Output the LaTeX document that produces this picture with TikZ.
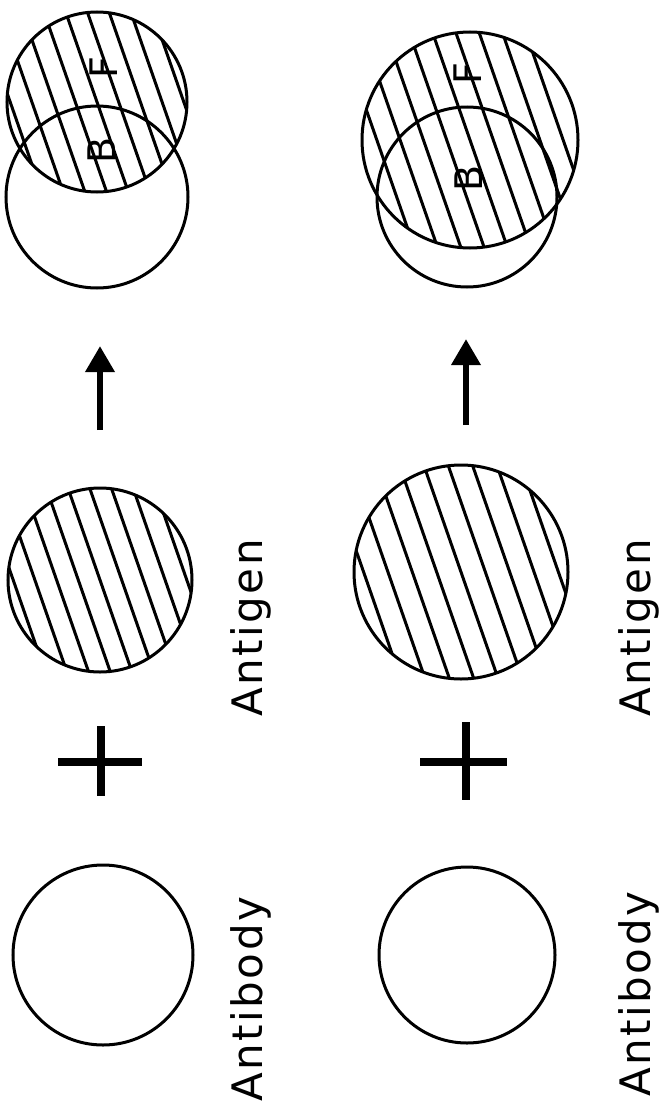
\documentclass[tikz,border=0pt]{standalone}
\usepackage{fontspec}
\setmainfont{DejaVu Sans}
\newfontfamily\labfont[LetterSpace=6]{DejaVu Sans}
\usetikzlibrary{arrows.meta}
\tikzset{
  outline/.style={circle, draw, line width=3pt, inner sep=0pt, outer sep=0pt},
  hatchline/.style={line width=3pt},
  arrowline/.style={line width=6.5pt, -{Triangle[length=26pt,width=28pt]}},
  plusbar/.style={line width=8pt},
  lab/.style={font=\labfont\fontsize{42}{48}\selectfont, inner sep=0pt, rotate=90, anchor=base west},
  letter/.style={font=\fontsize{38}{42}\selectfont, inner sep=0pt, rotate=90}
}
\newcommand\hatchdisk[4]{%
  \begin{scope}
    \clip (#1,#2) circle[radius=#3];
    \foreach \k in {-7,...,7}{
      \draw[hatchline, shift={(#1,#2)}] ({\k*#4*0.944-0.329*160},{-\k*#4*0.329-0.944*160}) -- ++(0.329*320,0.944*320);
    }
  \end{scope}}
\begin{document}
\begin{tikzpicture}[x=1pt,y=-1pt]
\useasboundingbox (0,0) rectangle (662,1108);
% ---------- left column ----------
% complex
\hatchdisk{97}{102}{90}{20.5}
\node[outline, minimum size=180pt] (cF1) at (97,102) {};
\node[outline, minimum size=182pt] (cB1) at (97,197) {};
\node[letter] (F1) at (104,68) {F};
\node[letter] (B1) at (102,150) {B};
% arrow
\coordinate (a1s) at (100,430);
\coordinate (a1e) at (100,346);
\draw[arrowline] (a1s) -- (a1e);
% antigen
\hatchdisk{100}{580}{92}{20.5}
\node[outline, minimum size=184pt] (ag1) at (100,580) {};
% plus
\coordinate (p1t) at (101,726);
\coordinate (p1b) at (101,796);
\coordinate (p1l) at (58,762);
\coordinate (p1r) at (142,762);
\draw[plusbar] (p1t) -- (p1b);
\draw[plusbar] (p1l) -- (p1r);
% antibody
\node[outline, minimum size=180pt] (ab1) at (103,955) {};
% labels
\node[lab] (tag1) at (262,717) {Antigen};
\node[lab] (tab1) at (262,1102) {Antibody};
% ---------- right column ----------
\hatchdisk{470}{140}{108}{22}
\node[outline, minimum size=216pt] (cF2) at (470,140) {};
\node[outline, minimum size=180pt] (cB2) at (467,197) {};
\node[letter] (F2) at (468,74) {F};
\node[letter] (B2) at (469,178) {B};
\coordinate (a2s) at (466,425);
\coordinate (a2e) at (466,339);
\draw[arrowline] (a2s) -- (a2e);
\hatchdisk{461}{572}{107}{23}
\node[outline, minimum size=214pt] (ag2) at (461,572) {};
\coordinate (p2t) at (466,722);
\coordinate (p2b) at (466,800);
\coordinate (p2l) at (420,762);
\coordinate (p2r) at (507,762);
\draw[plusbar] (p2t) -- (p2b);
\draw[plusbar] (p2l) -- (p2r);
\node[outline, minimum size=176pt] (ab2) at (467,955) {};
\node[lab] (tag2) at (650,717) {Antigen};
\node[lab] (tab2) at (650,1097) {Antibody};
\end{tikzpicture}
\end{document}
